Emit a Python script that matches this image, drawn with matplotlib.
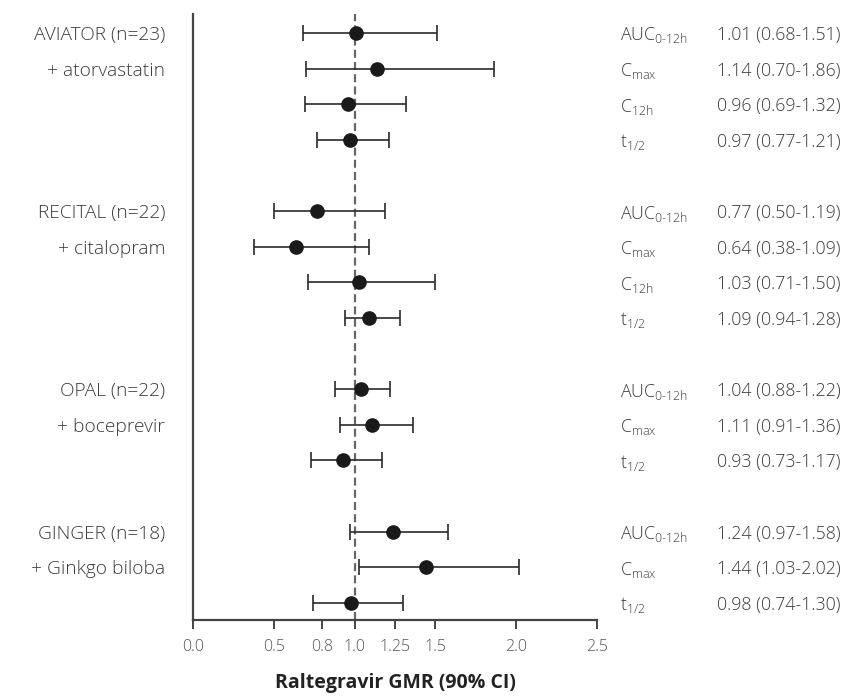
import matplotlib
matplotlib.use("Agg")
import matplotlib.pyplot as plt

plt.rcParams['font.family'] = ['Open Sans', 'DejaVu Sans']
plt.rcParams['font.weight'] = 'light'
plt.rcParams['mathtext.fontset'] = 'custom'
plt.rcParams['mathtext.rm'] = 'Open Sans:light'
plt.rcParams['mathtext.it'] = 'Open Sans:italic:light'
plt.rcParams['mathtext.bf'] = 'Open Sans:bold'

# ---- data ----
studies = ["AVIATOR (n=23)", "RECITAL (n=22)", "OPAL (n=22)", "GINGER (n=18)"]
drugs = ["+ atorvastatin", "+ citalopram", "+ boceprevir", "+ Ginkgo biloba"]
params = [
    ["AUC0-12h", "Cmax", "C12h", "t1/2"],
    ["AUC0-12h", "Cmax", "C12h", "t1/2"],
    ["AUC0-12h", "Cmax", "t1/2"],
    ["AUC0-12h", "Cmax", "t1/2"],
]
gmr = [
    [1.01, 1.14, 0.96, 0.97],
    [0.77, 0.64, 1.03, 1.09],
    [1.04, 1.11, 0.93],
    [1.24, 1.44, 0.98],
]
ci_low = [
    [0.68, 0.70, 0.69, 0.77],
    [0.50, 0.38, 0.71, 0.94],
    [0.88, 0.91, 0.73],
    [0.97, 1.03, 0.74],
]
ci_high = [
    [1.51, 1.86, 1.32, 1.21],
    [1.19, 1.09, 1.50, 1.28],
    [1.22, 1.36, 1.17],
    [1.58, 2.02, 1.30],
]
xticks = [0.0, 0.5, 0.8, 1.0, 1.25, 1.5, 2.0, 2.5]
xticklabels = ["0.0", "0.5", "0.8", "1.0", "1.25", "1.5", "2.0", "2.5"]

param_labels = {
    "AUC0-12h": r"AUC$_{\text{0-12h}}$",
    "Cmax": r"C$_{\mathrm{max}}$",
    "C12h": r"C$_{\mathrm{12h}}$",
    "t1/2": r"t$_{\mathrm{1/2}}$",
}

fig = plt.figure(figsize=(8.49, 7.0), dpi=100)
ax = fig.add_axes([193/849, 1-620/700, (597-193)/849, (620-14)/700])

txt_col = "#3a3a3a"
pos = 0
for g in range(len(studies)):
    for i in range(len(gmr[g])):
        y = pos + i
        ax.errorbar(gmr[g][i], y,
                    xerr=[[gmr[g][i]-ci_low[g][i]], [ci_high[g][i]-gmr[g][i]]],
                    fmt='o', color='#1a1a1a', ecolor='#2a2a2a', elinewidth=1.2,
                    capsize=5.5, capthick=1.2, markersize=9.5, zorder=3)
        ax.text(1.057, y, param_labels[params[g][i]], transform=ax.get_yaxis_transform(),
                ha='left', va='center_baseline', fontsize=12.8, color=txt_col)
        ax.text(1.297, y, f"{gmr[g][i]:.2f} ({ci_low[g][i]:.2f}-{ci_high[g][i]:.2f})",
                transform=ax.get_yaxis_transform(), ha='left', va='center_baseline',
                fontsize=12.8, color=txt_col)
    ax.text(-0.069, pos, studies[g], transform=ax.get_yaxis_transform(),
            ha='right', va='center_baseline', fontsize=13.8, color=txt_col)
    ax.text(-0.069, pos + 1, drugs[g], transform=ax.get_yaxis_transform(),
            ha='right', va='center_baseline', fontsize=13.8, color=txt_col)
    pos += len(gmr[g]) + 1

ax.axvline(1.0, color='#666666', lw=1.6, ls=(0, (3.6, 1.9)), zorder=1)

ax.set_xlim(0, 2.5)
ax.set_ylim(16.48, -0.53)
ax.set_yticks([])
ax.set_xticks(xticks)
ax.set_xticklabels(xticklabels, fontsize=11.5, color='#555555')
ax.tick_params(axis='x', direction='out', length=6.5, width=1.4, color='#444444', pad=7)
for s in ['top', 'right']:
    ax.spines[s].set_visible(False)
for s in ['left', 'bottom']:
    ax.spines[s].set_color('#444444')
    ax.spines[s].set_linewidth(1.6)

ax.set_xlabel("Raltegravir GMR (90% CI)", fontsize=14, fontweight='bold',
              color='#222222', labelpad=13)

fig.savefig("out.png", dpi=100)
